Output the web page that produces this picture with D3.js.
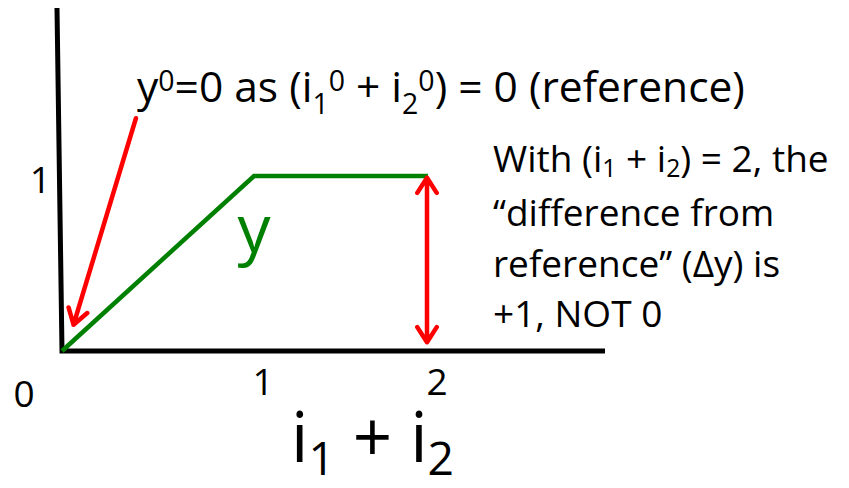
<!DOCTYPE html>
<html>
<head>
<meta charset="utf-8">
<script src="https://cdn.jsdelivr.net/npm/d3@7"></script>
<style>
  html, body { margin: 0; padding: 0; background: #fff; }
  svg { display: block; font-family: "Open Sans", Lato, sans-serif; }
</style>
</head>
<body>
<svg id="chart" width="849" height="488"></svg>
<script>
// ---- data ----
const xValues = [0, 1, 2];          // i1 + i2
const yValues = [0, 1, 1];          // y
const xTickValues = [1, 2];
const xTickLabels = ["1", "2"];
const yTickValues = [1];
const yTickLabels = ["1"];
const originLabel = "0";
const xDomain = [0, 1, 2, 3];
const yDomain = [0, 1.96];
// annotation arrow (data units): from label to origin
const refArrow = [[0.385, 1.33], [0.06, 0.15]];
// double arrow showing delta y at x = 2
const deltaArrow = { x: 2, y0: 0.99, y1: 0.05 };

// ---- scales ----
const svg = d3.select("#chart");
const x = d3.scaleLinear().domain(xDomain).range([62, 254, 428, 605]);
const y = d3.scaleLinear().domain(yDomain).range([351, 8]);

const RED = "#ff0000", GREEN = "#008000";

// ---- axes ----
svg.append("path")
  .attr("d", `M${x(0) - 5},${y(yDomain[1])} L${x(0)},${y(0)} L${x(xDomain[3])},${y(0)}`)
  .attr("fill", "none").attr("stroke", "#000").attr("stroke-width", 5)
  .attr("stroke-linejoin", "miter");

// ---- series ----
const line = d3.line().x(d => x(d[0])).y(d => y(d[1]));
svg.append("path")
  .datum(xValues.map((v, i) => [v, yValues[i]]))
  .attr("d", line)
  .attr("fill", "none").attr("stroke", GREEN).attr("stroke-width", 4.5);

// ---- ticks ----
svg.selectAll("text.xt").data(xTickValues).enter().append("text")
  .attr("x", d => x(d) + 9).attr("y", 395)
  .attr("text-anchor", "middle").attr("font-size", 37).text((d, i) => xTickLabels[i]);
svg.selectAll("text.yt").data(yTickValues).enter().append("text")
  .attr("x", 51).attr("y", d => y(d) + 17)
  .attr("text-anchor", "end").attr("font-size", 37).text((d, i) => yTickLabels[i]);
svg.append("text").attr("x", 24).attr("y", 407)
  .attr("text-anchor", "middle").attr("font-size", 37).text(originLabel);

// ---- rich text helper (sub/superscripts) ----
function rich(parent, px, py, size, segs, subOff) {
  const t = parent.append("text").attr("x", px).attr("y", py)
    .attr("font-size", size);
  let cur = 0;
  segs.forEach(s => {
    let off = 0, fs = size;
    if (s.s === "sup") { off = -0.25 * size; fs = size * 0.67; }
    if (s.s === "sub") { off = (subOff || 0.28) * size; fs = size * 0.67; }
    t.append("tspan").attr("dy", off - cur).attr("font-size", fs).text(s.t);
    cur = off;
  });
  return t;
}

// title annotation
rich(svg, 137, 102, 42.5, [
  {t: "y"}, {t: "0", s: "sup"}, {t: "=0 as (i"}, {t: "1", s: "sub"}, {t: "0", s: "sup"},
  {t: " + i"}, {t: "2", s: "sub"}, {t: "0", s: "sup"}, {t: ") = 0 (reference)"}
]);

// right note
const noteLines = [
  [{t: "With (i"}, {t: "1", s: "sub"}, {t: " + i"}, {t: "2", s: "sub"}, {t: ") = 2, the"}],
  [{t: "\u201Cdifference from"}],
  [{t: "reference\u201D (\u0394y) is"}],
  [{t: "+1, NOT 0"}]
];
const noteBaselines = [172, 225.5, 276.5, 327];
noteLines.forEach((segs, i) => rich(svg, 493, noteBaselines[i], 37, segs, 0.14));

// green series label
svg.append("text").attr("x", x(1)).attr("y", 252).attr("text-anchor", "middle")
  .attr("font-size", 66).attr("fill", GREEN).text("y");

// axis title
rich(svg, 291, 462, 69, [{t: "i"}, {t: "1", s: "sub"}, {t: " + i"}, {t: "2", s: "sub"}], 0.19);

// ---- arrows ----
function head(x1, y1, x2, y2, len) {
  const a = Math.atan2(y2 - y1, x2 - x1), w = Math.PI / 5.5;
  return `M${x2 - len * Math.cos(a - w)},${y2 - len * Math.sin(a - w)} L${x2},${y2} L${x2 - len * Math.cos(a + w)},${y2 - len * Math.sin(a + w)}`;
}
const ax1 = x(refArrow[0][0]), ay1 = y(refArrow[0][1]), ax2 = x(refArrow[1][0]), ay2 = y(refArrow[1][1]);
svg.append("path").attr("d", `M${ax1},${ay1} L${ax2},${ay2} ` + head(ax1, ay1, ax2, ay2, 18))
  .attr("fill", "none").attr("stroke", RED).attr("stroke-width", 4.5)
  .attr("stroke-linecap", "round").attr("stroke-linejoin", "round");

const dx = x(deltaArrow.x) - 1, dy0 = y(deltaArrow.y0), dy1 = y(deltaArrow.y1);
svg.append("path")
  .attr("d", `M${dx},${dy0} L${dx},${dy1} ` + head(dx, dy1, dx, dy0, 18) + " " + head(dx, dy0, dx, dy1, 18))
  .attr("fill", "none").attr("stroke", RED).attr("stroke-width", 4.5)
  .attr("stroke-linecap", "round").attr("stroke-linejoin", "round");
</script>
</body>
</html>
